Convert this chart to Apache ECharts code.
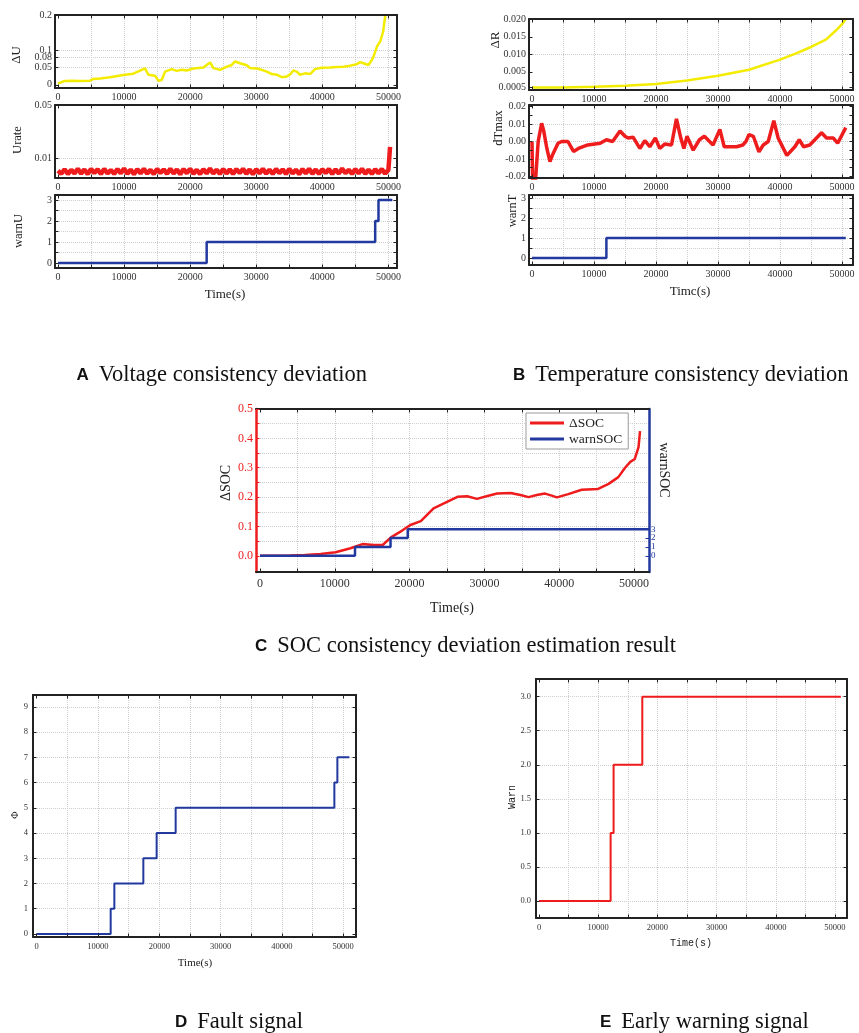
<!DOCTYPE html>
<html>
<head>
<meta charset="utf-8">
<script src="https://cdn.jsdelivr.net/npm/echarts@6/dist/echarts.min.js"></script>
<style>
html,body{margin:0;padding:0;background:#fff}
#chart{width:859px;height:1033px}
</style>
</head>
<body>
<div id="chart"></div>
<script>
// ---------------- data ----------------
const timeLabels = [0, 10000, 20000, 30000, 40000, 50000];

// A: voltage consistency deviation
const duTime = [0, 300, 560, 1060, 2070, 3330, 4840, 5350, 6360, 7870, 9890, 11400, 13170, 13680, 14690, 15190, 15700, 16200, 17210, 17970, 18730, 19490, 20490, 22000, 22500, 23020, 23530, 24540, 25550, 26300, 26800, 27560, 28570, 29070, 30330, 31600, 32350, 33100, 33860, 34620, 35120, 35630, 36130, 36630, 37390, 38150, 38900, 39910, 41170, 42180, 43190, 44200, 45210, 45720, 46220, 46980, 47500, 47770, 48280, 48780, 49190, 49540];
const duVals = [0.004, 0.0, 0.008, 0.011, 0.012, 0.011, 0.012, 0.017, 0.018, 0.022, 0.028, 0.032, 0.047, 0.029, 0.026, 0.012, 0.014, 0.038, 0.045, 0.040, 0.043, 0.041, 0.047, 0.050, 0.057, 0.064, 0.048, 0.043, 0.052, 0.057, 0.067, 0.062, 0.056, 0.048, 0.046, 0.038, 0.031, 0.029, 0.022, 0.024, 0.030, 0.041, 0.038, 0.029, 0.033, 0.031, 0.045, 0.049, 0.050, 0.051, 0.052, 0.055, 0.059, 0.065, 0.062, 0.057, 0.071, 0.082, 0.110, 0.125, 0.152, 0.200];

// Urate sampled every 500 s from 0 to 50000 s, then the final jump
const urateStep = 500;
const urateVals = [0.0005, -0.0018, 0.0016, -0.0020, 0.0012, -0.0015, 0.0020, -0.0017, 0.0014, -0.0021, 0.0018, -0.0012, 0.0015, -0.0020, 0.0019, -0.0016, 0.0011, -0.0019, 0.0017, -0.0014, 0.0021, -0.0018, 0.0013, -0.0022, 0.0016, -0.0015, 0.0019, -0.0017, 0.0012, -0.0020, 0.0018, -0.0013, 0.0015, -0.0019, 0.0020, -0.0016, 0.0014, -0.0021, 0.0017, -0.0014, 0.0019, -0.0018, 0.0012, -0.0020, 0.0016, -0.0015, 0.0021, -0.0017, 0.0013, -0.0019, 0.0018, -0.0016, 0.0015, -0.0020, 0.0017, -0.0013, 0.0019, -0.0018, 0.0014, -0.0021, 0.0016, -0.0015, 0.0020, -0.0017, 0.0012, -0.0019, 0.0018, -0.0014, 0.0015, -0.0020, 0.0019, -0.0016, 0.0013, -0.0021, 0.0017, -0.0015, 0.0020, -0.0018, 0.0014, -0.0019, 0.0016, -0.0013, 0.0018, -0.0020, 0.0015, -0.0017, 0.0021, -0.0014, 0.0012, -0.0019, 0.0017, -0.0016, 0.0019, -0.0018, 0.0013, -0.0020, 0.0016, -0.0015, 0.0018, -0.0017, 0.0011];
const urateTailTime = [50150, 50250];
const urateTailVals = [0.0020, 0.0185];

const warnUTime = [0, 22500, 48000, 48500, 50600];
const warnUVals = [0, 1, 2, 3, 3];

// B: temperature consistency deviation
const drTime = [0, 5000, 10000, 15000, 20000, 25000, 30000, 35000, 40000, 42500, 45000, 47400, 49000, 50000, 50600];
const drVals = [0.0005, 0.0005, 0.0007, 0.0010, 0.0015, 0.0025, 0.0039, 0.0056, 0.0085, 0.0102, 0.0121, 0.0142, 0.0168, 0.0186, 0.0200];

const dtTime = [0, 120, 500, 1000, 1560, 1900, 2400, 2900, 3400, 4200, 4800, 5800, 6700, 7500, 9000, 11000, 12000, 13000, 14200, 15000, 15500, 16300, 17400, 18200, 19000, 19900, 20600, 21400, 22500, 23300, 24000, 24500, 25000, 26000, 27000, 27800, 29200, 30300, 31000, 33000, 34000, 34500, 35000, 35700, 36600, 37300, 38100, 39000, 39700, 41100, 42400, 43100, 43800, 44800, 46700, 47500, 48600, 49300, 50600];
const dtVals = [0.000, -0.026, -0.026, 0.000, 0.0105, 0.006, -0.004, -0.0115, -0.007, -0.001, 0.000, 0.000, -0.0057, -0.004, -0.002, -0.001, 0.001, 0.000, 0.006, 0.003, 0.002, 0.0025, -0.004, 0.0005, -0.003, 0.002, -0.004, -0.0015, -0.002, 0.013, 0.002, -0.004, 0.003, -0.005, 0.001, 0.003, -0.002, 0.007, -0.003, -0.003, -0.002, 0.000, 0.004, 0.003, -0.006, -0.002, 0.000, 0.012, 0.002, -0.008, -0.003, 0.001, -0.003, -0.002, 0.005, 0.002, 0.002, -0.001, 0.008];

const warnTTime = [0, 12000, 50600];
const warnTVals = [0, 1, 1];

// C: SOC consistency deviation
const socTime = [0, 2000, 4000, 6000, 8100, 10100, 12100, 13700, 15200, 16400, 17500, 19000, 20100, 21500, 23200, 25000, 26400, 27700, 29000, 30400, 31700, 33500, 34800, 35900, 37000, 38100, 39000, 39700, 41200, 43000, 45200, 46600, 47900, 48800, 49500, 50100, 50600, 50800];
const socVals = [0.0, 0.0, 0.001, 0.003, 0.006, 0.012, 0.026, 0.040, 0.037, 0.037, 0.063, 0.086, 0.105, 0.118, 0.162, 0.184, 0.201, 0.203, 0.194, 0.204, 0.212, 0.214, 0.207, 0.200, 0.207, 0.212, 0.205, 0.199, 0.210, 0.225, 0.228, 0.245, 0.268, 0.300, 0.320, 0.330, 0.370, 0.425];
const warnSocTime = [0, 12700, 17450, 19750, 52000];
const warnSocVals = [0, 1, 2, 3, 3];

// D: fault signal
const phiTime = [0, 12070, 12670, 17400, 19570, 22670, 48560, 49050, 51000];
const phiVals = [0, 1, 2, 3, 4, 5, 6, 7, 7];

// E: early warning signal
const warnTime = [0, 12100, 12600, 17450, 51000];
const warnVals = [0, 1, 2, 3, 3];

// tick labels
const duTicks = [0, 0.05, 0.08, 0.1, 0.2];
const urateTicks = [0.003, 0.01, 0.05];
const warnIntTicks = [0, 1, 2, 3];
const drTicks = [0.0005, 0.005, 0.010, 0.015, 0.020];
const dtTicks = [-0.02, -0.01, 0, 0.01, 0.02];
const socTicks = [0, 0.1, 0.2, 0.3, 0.4, 0.5];
const warnSocTicks = [0, 1, 2, 3];
const phiTicks = [0, 1, 2, 3, 4, 5, 6, 7, 8, 9];
const warnETicks = [0, 0.5, 1, 1.5, 2, 2.5, 3];

// ---------------- helpers ----------------
const SERIF = 'Liberation Serif';
const SANS = 'Liberation Sans';
const MONO = 'Liberation Mono';
const YELLOW = '#f4ec00';
const RED = '#ee1c1c';
const BLUE = '#22399f';
const INK = '#222';

function seq(a, b, s) { const r = []; for (let i = 0; a + i * s <= b + 1e-9; i++) r.push(+(a + i * s).toFixed(6)); return r; }
function zip(xs, ys) { return xs.map((x, i) => [x, ys[i]]); }

const grids = [], xAxis = [], yAxis = [], series = [], graphic = [];

function panel(p) {
  const gi = grids.length;
  grids.push({ left: p.left, top: p.top, width: p.width, height: p.height, show: false });
  const xi = xAxis.length, yi = yAxis.length;
  const c = p.colors || {};
  const bw = p.bw || 2;
  const lab = { fontFamily: p.font || SERIF, fontSize: p.fs, color: '#333' };
  const edge = (col, w) => ({ show: true, onZero: false, lineStyle: { color: col, width: w } });
  const tick = (vals, col) => ({ show: true, inside: true, length: p.tickLen || 3.5, customValues: vals, lineStyle: { color: col || INK, width: 1 } });
  const xTicks = seq(0, 50000, 5000);
  const base = { type: 'value', gridIndex: gi, splitLine: { show: false }, minorTick: { show: false }, z: 4 };
  xAxis.push(Object.assign({}, base, {
    position: 'bottom', min: p.x[0], max: p.x[1],
    axisLine: edge(c.bottom || INK, bw), axisTick: tick(xTicks),
    axisLabel: Object.assign({}, lab, { customValues: timeLabels, margin: p.xMargin || 4, formatter: v => String(v) })
  }));
  xAxis.push(Object.assign({}, base, {
    position: 'top', min: p.x[0], max: p.x[1],
    axisLine: edge(c.top || INK, bw), axisTick: tick(xTicks), axisLabel: { show: false }
  }));
  yAxis.push(Object.assign({}, base, {
    position: 'left', min: p.y[0], max: p.y[1],
    axisLine: edge(c.left || INK, p.lbw || bw), axisTick: tick(p.yTickVals || p.yLabels, c.left),
    axisLabel: Object.assign({}, lab, { color: c.leftLabel || '#333', customValues: p.yLabels, margin: p.yMargin || 3, formatter: p.yFmt || (v => String(v)) })
  }));
  const r = p.right || {};
  yAxis.push(Object.assign({}, base, {
    position: 'right', min: r.min !== undefined ? r.min : p.y[0], max: r.max !== undefined ? r.max : p.y[1],
    axisLine: edge(c.right || INK, p.rbw || bw), axisTick: tick(r.ticks || p.yTickVals || p.yLabels, c.right),
    axisLabel: r.labels ? Object.assign({}, lab, { color: c.right, fontSize: r.fs, customValues: r.labels, margin: 2, formatter: v => String(v) }) : { show: false }
  }));
  // dotted guide lines, kept beneath the data lines
  series.push({
    type: 'line', xAxisIndex: xi, yAxisIndex: yi, data: [], silent: true, z: 1,
    markLine: {
      silent: true, z: 1, symbol: ['none', 'none'], label: { show: false }, animation: false,
      lineStyle: { type: 'dotted', color: '#cfcfcf', width: 1 }, emphasis: { disabled: true },
      data: [...(p.gx || []).map(v => ({ xAxis: v })), ...(p.gy || []).map(v => ({ yAxis: v }))]
    }
  });
  return { x: xi, y: yi, yr: yi + 1 };
}

function line(ax, data, color, width, extra) {
  series.push(Object.assign({
    type: 'line', xAxisIndex: ax.x, yAxisIndex: ax.y, data: data, showSymbol: false, symbol: 'none',
    lineStyle: { color: color, width: width }, itemStyle: { color: color }, z: 3, clip: true, animation: false
  }, extra || {}));
}

function label(text, x, y, opt) {
  opt = opt || {};
  graphic.push({
    type: 'text', x: x, y: y, rotation: opt.rot || 0, silent: true,
    style: { text: text, fill: opt.color || INK, fontFamily: opt.font || SERIF, fontSize: opt.size || 12, align: 'center', verticalAlign: 'middle' }
  });
}

function caption(letter, text, x, y, align) {
  graphic.push({
    type: 'text', x: x, y: y, silent: true,
    style: {
      text: '{l|' + letter + '}{t|' + text + '}', align: align || 'left', verticalAlign: 'middle',
      rich: {
        l: { fontFamily: SANS, fontWeight: 'bold', fontSize: 17, fill: '#111', padding: [0, 10, 0, 0] },
        t: { fontFamily: SERIF, fontSize: 22.5, fill: '#111' }
      }
    }
  });
}

const gx5000 = seq(5000, 50000, 5000);
const fs = 10;

// ---------------- panel A ----------------
const a1 = panel({ left: 55, top: 15, width: 342, height: 73, x: [-450, 51300], y: [-0.009, 0.2], fs: fs,
  yLabels: duTicks, gx: gx5000, gy: [0.05, 0.08, 0.1] });
line(a1, zip(duTime, duVals), YELLOW, 2.5);

const a2 = panel({ left: 55, top: 105, width: 342, height: 73, x: [-450, 51300], y: [-0.005, 0.05], fs: fs,
  yLabels: urateTicks, gx: gx5000, gy: [0.01] });
const urateData = urateVals.map((v, i) => [i * urateStep, v]).concat(zip(urateTailTime, urateTailVals));
line(a2, urateData, RED, 4.5);

const a3 = panel({ left: 55, top: 195, width: 342, height: 73, x: [-450, 51300], y: [-0.24, 3.24], fs: fs,
  yLabels: warnIntTicks, yTickVals: seq(0, 3, 0.5), gx: gx5000, gy: seq(0.5, 3, 0.5) });
line(a3, zip(warnUTime, warnUVals), BLUE, 2.5, { step: 'end' });

// ---------------- panel B ----------------
const b1 = panel({ left: 529, top: 19, width: 324, height: 71, x: [-480, 51770], y: [-0.0002, 0.0201], fs: fs,
  yLabels: drTicks, yFmt: v => (v === 0.0005 ? '0.0005' : v.toFixed(3)), gx: gx5000, gy: [0.005, 0.010, 0.015] });
line(b1, zip(drTime, drVals), YELLOW, 2.5);

const b2 = panel({ left: 529, top: 105, width: 324, height: 73, x: [-480, 51770], y: [-0.021, 0.021], fs: fs,
  yLabels: dtTicks, yTickVals: seq(-0.02, 0.02, 0.005), yFmt: v => v.toFixed(2), gx: gx5000, gy: seq(-0.015, 0.015, 0.005) });
line(b2, zip(dtTime, dtVals), RED, 3.5);

const b3 = panel({ left: 529, top: 195, width: 324, height: 70, x: [-480, 51770], y: [-0.35, 3.15], fs: fs,
  yLabels: warnIntTicks, yTickVals: seq(0, 3, 0.5), gx: gx5000, gy: seq(0.5, 3, 0.5) });
line(b3, zip(warnTTime, warnTVals), BLUE, 2.5, { step: 'end' });

// ---------------- panel C ----------------
const c1 = panel({ left: 256, top: 409, width: 393, height: 163, x: [-533, 52000], y: [-0.055, 0.5], fs: 12,
  xMargin: 6, yLabels: socTicks, yTickVals: seq(0, 0.5, 0.05), yFmt: v => v.toFixed(1),
  colors: { left: RED, leftLabel: RED, right: BLUE }, lbw: 2.5, rbw: 2.5,
  right: { min: -1.815, max: 16.5, labels: warnSocTicks, ticks: warnSocTicks, fs: 9 },
  gx: gx5000, gy: seq(0.05, 0.45, 0.05) });
line(c1, zip(socTime, socVals), RED, 2.5, { name: 'ΔSOC' });
line({ x: c1.x, y: c1.yr }, zip(warnSocTime, warnSocVals), BLUE, 2.5, { name: 'warnSOC', step: 'end' });

// ---------------- panel D ----------------
const d1 = panel({ left: 33, top: 695, width: 323, height: 242, x: [-600, 52090], y: [-0.12, 9.47], fs: 8.5,
  xMargin: 5, yMargin: 5, yLabels: phiTicks, gx: gx5000, gy: seq(1, 9, 1) });
line(d1, zip(phiTime, phiVals), BLUE, 2, { step: 'end' });

// ---------------- panel E ----------------
const e1 = panel({ left: 536, top: 679, width: 311, height: 239, x: [-507, 52030], y: [-0.25, 3.26], fs: 8.5,
  xMargin: 5, yMargin: 5, yLabels: warnETicks, yFmt: v => v.toFixed(1), gx: gx5000, gy: seq(0, 3, 0.5) });
line(e1, zip(warnTime, warnVals), RED, 2, { step: 'end' });

// ---------------- axis titles ----------------
const UP = Math.PI / 2, DOWN = -Math.PI / 2;
label('ΔU', 17, 55, { rot: UP, size: 13 });
label('Urate', 18, 140, { rot: UP, size: 12.5 });
label('warnU', 19, 231, { rot: UP, size: 12.5 });
label('Time(s)', 225, 295, { size: 13 });

label('ΔR', 496, 40, { rot: UP, size: 13 });
label('dTmax', 499, 128, { rot: UP, size: 12.5 });
label('warnT', 513, 211, { rot: UP, size: 12.5 });
label('Timc(s)', 690, 292, { size: 13 });

label('ΔSOC', 226, 483, { rot: UP, size: 14 });
label('warnSOC', 664, 470, { rot: DOWN, size: 14 });
label('Time(s)', 452, 608, { size: 14 });

label('Φ', 15, 815, { rot: UP, size: 10 });
label('Time(s)', 195, 963, { size: 11 });

label('Warn', 512, 797, { rot: UP, size: 10, font: MONO });
label('Time(s)', 691, 943, { size: 10, font: MONO });

// ---------------- captions ----------------
caption('A', 'Voltage consistency deviation', 367, 375, 'right');
caption('B', 'Temperature consistency deviation', 513, 375);
caption('C', 'SOC consistency deviation estimation result', 255, 646);
caption('D', 'Fault signal', 175, 1022);
caption('E', 'Early warning signal', 600, 1022);

const chart = echarts.init(document.getElementById('chart'), null, { renderer: 'canvas' });
chart.setOption({
  backgroundColor: '#fff',
  animation: false,
  textStyle: { fontFamily: SERIF },
  grid: grids,
  xAxis: xAxis,
  yAxis: yAxis,
  legend: {
    left: 526, top: 413, orient: 'vertical', backgroundColor: '#fff', borderColor: '#9a9a9a', borderWidth: 1,
    padding: [3, 6, 3, 4], itemGap: 2, itemWidth: 34, itemHeight: 3, selectedMode: false,
    textStyle: { fontFamily: SERIF, fontSize: 13.5, color: INK },
    data: [{ name: 'ΔSOC', icon: 'rect' }, { name: 'warnSOC', icon: 'rect' }]
  },
  series: series,
  graphic: graphic
});
</script>
</body>
</html>
